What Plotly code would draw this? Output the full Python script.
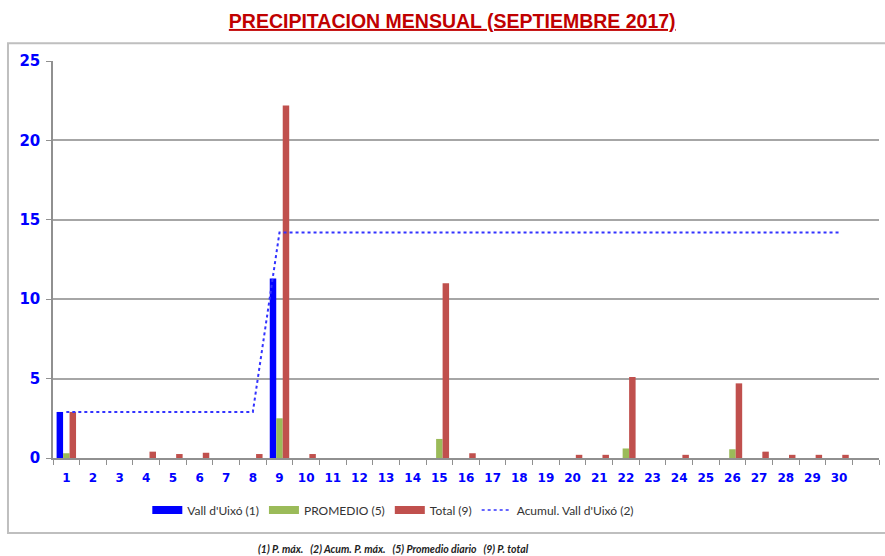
import plotly.graph_objects as go

days = [str(d) for d in range(1, 32)]
day_labels = [str(d) for d in range(1, 31)] + [" "]

vall = [2.9, 0, 0, 0, 0, 0, 0, 0, 11.3, 0, 0, 0, 0, 0, 0, 0, 0, 0, 0, 0, 0, 0, 0, 0, 0, 0, 0, 0, 0, 0, None]
promedio = [0.3, 0, 0, 0, 0, 0, 0, 0, 2.5, 0, 0, 0, 0, 0, 1.2, 0, 0, 0, 0, 0, 0, 0.6, 0, 0, 0, 0.55, 0, 0, 0, 0, None]
total = [2.9, 0, 0, 0.4, 0.25, 0.33, 0, 0.25, 22.2, 0.25, 0, 0, 0, 0, 11.0, 0.3, 0, 0, 0, 0.2, 0.2, 5.1, 0, 0.2, 0, 4.7, 0.4, 0.2, 0.2, 0.2, None]
acumul = [2.9, 2.9, 2.9, 2.9, 2.9, 2.9, 2.9, 2.9, 14.2, 14.2, 14.2, 14.2, 14.2, 14.2, 14.2, 14.2, 14.2, 14.2, 14.2, 14.2, 14.2, 14.2, 14.2, 14.2, 14.2, 14.2, 14.2, 14.2, 14.2, 14.2, None]

names = ["Vall d'Uixó (1)", "PROMEDIO (5)", "Total (9)", "Acumul. Vall d'Uixó (2)"]
colors = ["#0000FF", "#9BBB59", "#C0504D", "#3333FF"]

fig = go.Figure()
for vals, name, col in zip([vall, promedio, total], names[:3], colors[:3]):
    fig.add_trace(go.Bar(x=days, y=vals, name=name, marker=dict(color=col, line=dict(width=0)),
                         showlegend=False))
fig.add_trace(go.Scatter(x=days, y=acumul, mode="lines", name=names[3],
                         line=dict(color=colors[3], width=2, dash="dot"), showlegend=False))

# legend entries
for name, col in zip(names[:3], colors[:3]):
    fig.add_trace(go.Scatter(x=[None], y=[None], mode="lines", name=name,
                             line=dict(color=col, width=8)))
fig.add_trace(go.Scatter(x=[None], y=[None], mode="lines", name=names[3],
                         line=dict(color=colors[3], width=1.5, dash="dot")))

fig.update_layout(
    width=885, height=556,
    margin=dict(l=53, r=6, t=61, b=98),
    paper_bgcolor="white", plot_bgcolor="white",
    barmode="group", bargap=0.27, bargroupgap=0,
    title=dict(text="<b>PRECIPITACION MENSUAL (SEPTIEMBRE 2017)</b>",
               x=0.511, xanchor="center", y=0.962, yanchor="middle",
               font=dict(family="Liberation Sans", size=19.5, color="#C00000", lineposition="under")),
    xaxis=dict(type="category", categoryorder="array", categoryarray=days,
               tickvals=days, ticktext=day_labels,
               tickson="boundaries", ticks="outside", ticklen=5, tickcolor="#909090",
               showline=True, linecolor="#909090", linewidth=1.5, showgrid=False,
               ticklabelstandoff=8,
               tickfont=dict(family="DejaVu Sans", size=12, color="#0000FF", weight="bold"),
               range=[-0.5, 30.5]),
    yaxis=dict(range=[0, 25], dtick=5, ticks="outside", ticklen=5, tickcolor="#909090",
               showline=True, linecolor="#909090", linewidth=1.5,
               showgrid=True, gridcolor="#A6A6A6", gridwidth=1.5, zeroline=False,
               ticklabelstandoff=3,
               tickfont=dict(family="DejaVu Sans", size=15, color="#0000FF", weight="bold")),
    legend=dict(orientation="h", x=0.412, xanchor="center", y=-0.131, yanchor="middle",
                font=dict(family="Lato", size=12, color="#333333"),
                itemwidth=30, traceorder="normal", bgcolor="rgba(0,0,0,0)"),
    showlegend=True,
)

fig.add_shape(type="rect", xref="paper", yref="paper", x0=-0.0545, x1=1.02, y0=-0.189, y1=1.045,
              line=dict(color="#BFBFBF", width=2), fillcolor="rgba(0,0,0,0)", layer="below")

fig.add_annotation(text="<b><i>(1) P. máx.   (2) Acum. P. máx.   (5) Promedio diario   (9) P. total</i></b>",
                   xref="paper", yref="paper", x=0.412, y=-0.229, xanchor="center", yanchor="middle",
                   showarrow=False, font=dict(family="Lato", size=10.5, color="#222222"))

fig.write_html("out.html", config={"displayModeBar": False},
               post_script="document.body.style.margin='0px';")
